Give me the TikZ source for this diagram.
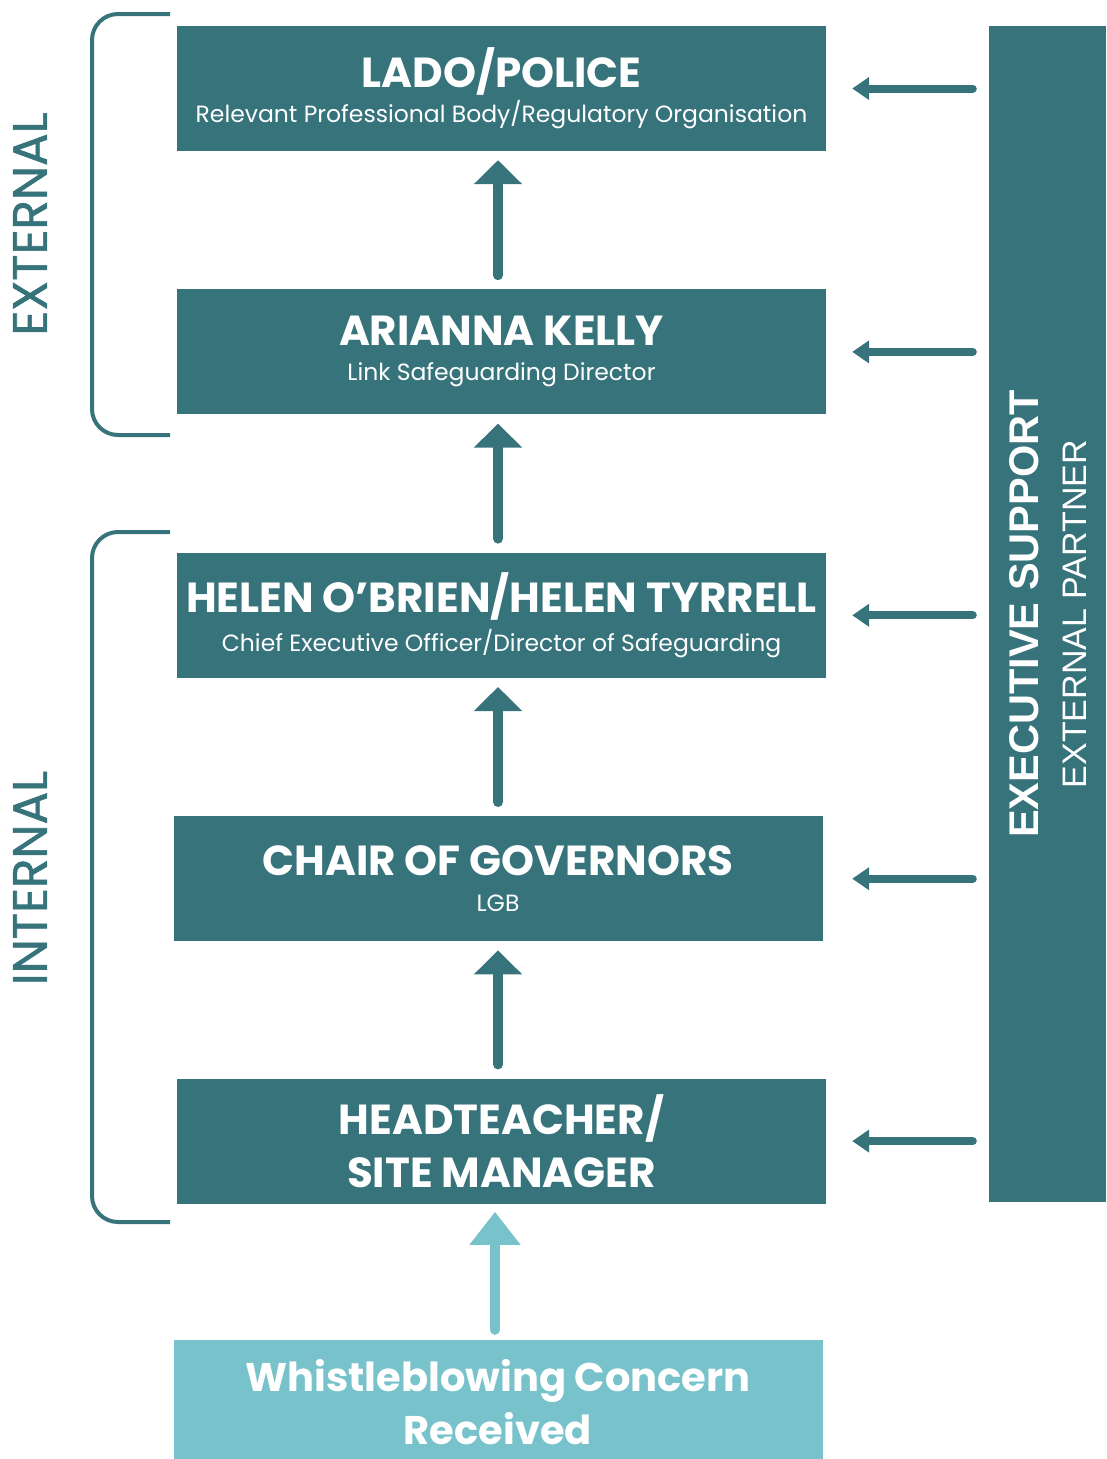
\documentclass[tikz,border=0pt]{standalone}
\usepackage{fontspec}
\setmainfont{Poppins}
\newfontfamily\barfont{Liberation Sans}
\newfontfamily\labelfont[FakeBold=1.2]{Poppins}
\usetikzlibrary{arrows.meta,positioning,calc}

\definecolor{darkteal}{HTML}{37737B}
\definecolor{lightteal}{HTML}{78C2CB}

\newcommand{\titlefont}{\fontsize{42}{53}\selectfont\bfseries}
\newcommand{\subfont}{\fontsize{23.5}{28}\selectfont\mdseries}

\begin{document}
\begin{tikzpicture}[%
    x=1pt, y=-1pt,              % one unit is one pixel of the sketch
    node distance=138pt,        % Global setup of box spacing
    ]

\tikzset{
    base/.style={align=center, text=white, inner sep=0pt},
    proc/.style={base, rectangle, fill=darkteal, minimum width=649pt, minimum height=125pt, font=\titlefont},
    source/.style={proc, fill=lightteal, font=\fontsize{40}{53}\selectfont\bfseries},
    panel/.style={rectangle, fill=darkteal, minimum width=117pt, minimum height=1176pt},
    side/.style={base, text=darkteal, rotate=90, font=\labelfont\fontsize{48.5}{50}\selectfont},
    % Arrows
    fforw/.style={-{Triangle[width=47pt,length=24pt]}, line width=10pt, line cap=round, darkteal},
    fsrc/.style={-{Triangle[width=49pt,length=33pt]}, line width=10pt, line cap=round, lightteal},
    fside/.style={-{Triangle[width=22pt,length=17pt]}, line width=8pt, line cap=round, darkteal},
    brack/.style={line width=4pt, darkteal, rounded corners=26pt},
}

\useasboundingbox (0,0) rectangle (1106,1459);

%% Main column
\node [proc] (lado) at (501.5,88.5) {LADO/POLICE\\[-18pt]{\subfont Relevant Professional Body/Regulatory Organisation}};
\node [proc, below=of lado] (arianna) {ARIANNA KELLY\\[-18pt]{\subfont Link Safeguarding Director}};
    \draw [fforw] ($(arianna.north)+(-3.5,-14)$) -- ($(lado.south)+(-3.5,9)$);
\node [proc, below=of arianna] (helen) {HELEN O'BRIEN/HELEN TYRRELL\\[-14pt]{\subfont Chief Executive Officer/Director of Safeguarding}};
    \draw [fforw] ($(helen.north)+(-3.5,-14)$) -- ($(arianna.south)+(-3.5,9)$);
\node [proc, below=of helen, xshift=-3.5pt] (chair) {CHAIR OF GOVERNORS\\[-17pt]{\subfont LGB}};
    \draw [fforw] ($(chair.north)+(0,-14)$) -- ($(helen.south)+(-3.5,9)$);
\node [proc, below=137pt of chair, xshift=3.5pt] (head) {HEADTEACHER/\\SITE MANAGER};
    \draw [fforw] ($(head.north)+(-3.5,-14)$) -- ($(chair.south)+(0,9)$);

%% Source
\node [source, below=136pt of head, xshift=-3.5pt] (whistle) {Whistleblowing Concern\\Received};
    \draw [fsrc] ($(whistle.north)+(-3,-10)$) -- ($(head.south)+(-6.5,8)$);

%% Executive support
\node [panel] (bar) at (1047.5,614) {};
\node [base, rotate=90, font=\barfont\fontsize{41.5}{48}\selectfont] (bartext) at (bar.center) {{\bfseries EXECUTIVE SUPPORT}\\{\fontsize{34}{36}\selectfont EXTERNAL PARTNER}};
\foreach \blk in {lado, arianna, helen, chair, head} {
    \coordinate (from-\blk) at ($(bar.west |- \blk.center)+(-16,0)$);
    \coordinate (to-\blk) at ($(lado.east |- \blk.center)+(26,0)$);
    \draw [fside] (from-\blk) -- (to-\blk);
}

%% Brackets
\draw [brack] (170,14) -- (92,14) -- (92,435) -- (170,435);
\node [side] (external) at (30,224) {EXTERNAL};
\draw [brack] (170,532) -- (92,532) -- (92,1222) -- (170,1222);
\node [side] (internal) at (30,878) {INTERNAL};
\end{tikzpicture}
\end{document}
